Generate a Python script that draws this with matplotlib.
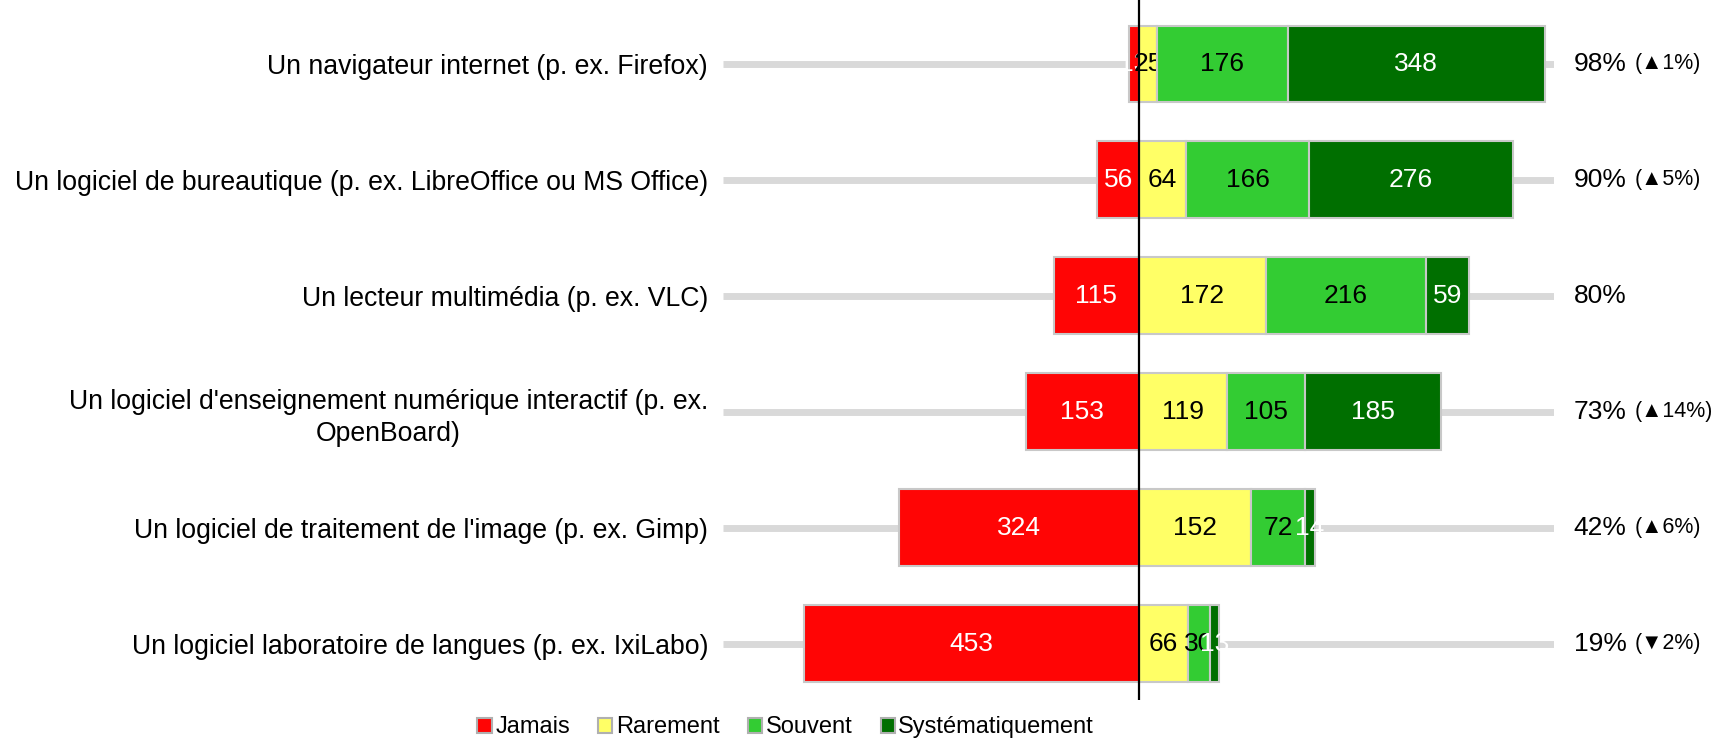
import numpy as np
import matplotlib
matplotlib.use("Agg")
import matplotlib.pyplot as plt
from matplotlib.patches import Patch

plt.rcParams['font.family'] = ['Liberation Sans', 'DejaVu Sans']

# data
categories = [
    "Un navigateur internet (p. ex. Firefox)",
    "Un logiciel de bureautique (p. ex. LibreOffice ou MS Office)",
    "Un lecteur multimédia (p. ex. VLC)",
    "Un logiciel d'enseignement numérique interactif (p. ex.\nOpenBoard)",
    "Un logiciel de traitement de l'image (p. ex. Gimp)",
    "Un logiciel laboratoire de langues (p. ex. IxiLabo)",
]
jamais = [13, 56, 115, 153, 324, 453]
rarement = [25, 64, 172, 119, 152, 66]
souvent = [176, 166, 216, 105, 72, 30]
systematiquement = [348, 276, 59, 185, 14, 13]
pct_labels = ["98%", "90%", "80%", "73%", "42%", "19%"]
delta_labels = ["(▲1%)", "(▲5%)", "", "(▲14%)", "(▲6%)", "(▼2%)"]
series_names = ["Jamais", "Rarement", "Souvent", "Systématiquement"]
colors = ["#ff0505", "#ffff66", "#33cc33", "#006f00"]
text_colors = ["white", "black", "black", "white"]

fig = plt.figure(figsize=(17.27, 7.4), dpi=100)
ax = fig.add_axes([723.4 / 1727, 40 / 740, 831 / 1727, 700 / 740])

y = np.arange(len(categories))
total = max(np.array(jamais) + np.array(rarement) + np.array(souvent) + np.array(systematiquement))

# grey guide lines behind bars
ax.hlines(y, -total, total, color="#d9d9d9", lw=5, zorder=1, capstyle="butt")

# jamais goes left of zero, the others stack to the right
starts = [-np.array(jamais)]
right = np.zeros(len(y))
for s in [rarement, souvent, systematiquement]:
    starts.append(right.copy())
    right = right + np.array(s)

z = 2
for i, vals in enumerate([jamais, rarement, souvent, systematiquement]):
    vals = np.array(vals)
    ax.barh(y, vals, left=starts[i], height=0.664, color=colors[i],
            edgecolor="#c8c8c8", linewidth=1.5, zorder=z)
    for yi, (l, v) in enumerate(zip(starts[i], vals)):
        ax.text(l + v / 2, yi, str(v), ha="center", va="center",
                color=text_colors[i], fontsize=19, zorder=z + 1)
    z += 2

ax.axvline(0, color="black", lw=1.6, zorder=20)

# percentages on the right
for yi in y:
    t = ax.annotate(pct_labels[yi], xy=(1, yi), xycoords=("axes fraction", "data"),
                    xytext=(14, 0), textcoords="offset points",
                    ha="left", va="center", fontsize=19)
    if delta_labels[yi]:
        ax.annotate(delta_labels[yi], xy=(1, 0.5), xycoords=t,
                    xytext=(6, 0), textcoords="offset points",
                    ha="left", va="center", fontsize=15.5)

ax.set_xlim(-total, total)
ax.set_ylim(len(y) - 0.513, -0.552)
ax.set_yticks(y, categories)
for lab in ax.get_yticklabels():
    lab.set_multialignment("center")
    lab.set_linespacing(1.3)
ax.tick_params(axis="y", length=0, pad=11, labelsize=19.2)
ax.set_xticks([])
for sp in ax.spines.values():
    sp.set_visible(False)

handles = [Patch(facecolor=c, edgecolor="#b0b0b0", linewidth=1.5) for c in colors]
fig.legend(handles, series_names, loc="center", bbox_to_anchor=(0.455, 0.017),
           ncol=4, frameon=False, fontsize=17, handlelength=0.6, handleheight=0.6,
           handletextpad=0.15, columnspacing=1.2, borderpad=0)

fig.savefig("out.png", dpi=100)
